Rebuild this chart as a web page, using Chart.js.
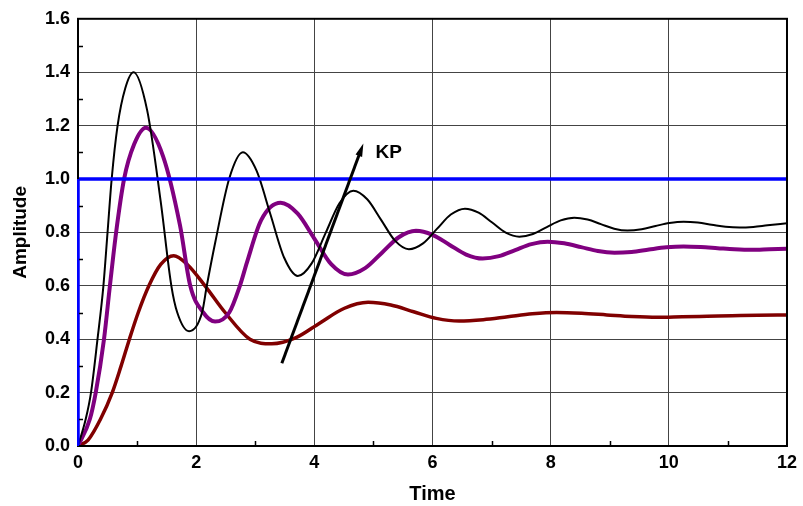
<!DOCTYPE html>
<html><head><meta charset="utf-8">
<script src="https://cdn.jsdelivr.net/npm/chart.js@4/dist/chart.umd.min.js"></script>
<style>html,body{margin:0;padding:0;background:#fff}#wrap{width:803px;height:506px}</style>
</head><body><div id="wrap"><canvas id="c"></canvas></div>
<script>
// Step input
const stepX = [0, 0, 12];
const stepY = [0, 1, 1];
// Highest KP (black)
const blackX = [0,0.13,0.22,0.33,0.43,0.5,0.57,0.67,0.8,0.94,1.17,1.40,1.58,1.68,1.88,2.1,2.18,2.325,2.56,2.79,3.02,3.255,3.49,3.72,3.955,4.19,4.425,4.66,4.895,5.13,5.365,5.6,5.84,6.075,6.31,6.55,6.78,7.01,7.24,7.47,7.70,7.935,8.17,8.4,8.625,8.85,9.075,9.3,9.54,9.775,10.01,10.25,10.49,10.725,10.96,11.2,11.43,11.67,12];
const blackY = [0,0.1,0.2,0.4,0.6,0.8,1.0,1.2,1.34,1.40,1.258,0.915,0.6,0.5,0.43,0.5,0.6,0.765,1.002,1.10,1.032,0.869,0.705,0.637,0.684,0.797,0.909,0.956,0.924,0.847,0.769,0.737,0.759,0.813,0.867,0.889,0.874,0.837,0.799,0.784,0.794,0.82,0.845,0.855,0.848,0.831,0.814,0.807,0.812,0.824,0.835,0.84,0.837,0.829,0.821,0.818,0.8205,0.8265,0.834];
// Middle KP (purple)
const purpleX = [0,0.2,0.3,0.44,0.54,0.645,0.78,0.95,1.15,1.44,1.725,1.9,2.12,2.32,2.56,2.74,2.86,3.1,3.43,3.715,4.0,4.285,4.57,4.86,5.145,5.43,5.72,6.0,6.285,6.57,6.85,7.125,7.4,7.675,7.95,8.23,8.515,8.8,9.08,9.37,9.665,9.96,10.25,10.54,10.825,11.11,11.4,11.7,12];
const purpleY = [0,0.1,0.2,0.4,0.6,0.8,1.0,1.13,1.192,1.085,0.828,0.6,0.5,0.466,0.5,0.6,0.688,0.846,0.911,0.871,0.777,0.681,0.642,0.666,0.724,0.782,0.806,0.791,0.754,0.717,0.702,0.711,0.734,0.756,0.765,0.759,0.745,0.730,0.724,0.727,0.736,0.744,0.747,0.745,0.741,0.737,0.735,0.737,0.739];
// Lowest KP (dark red)
const redX = [0,0.17,0.38,0.58,0.73,0.87,1.02,1.2,1.4,1.62,1.85,2.15,2.49,2.91,3.28,3.69,4.095,4.5,4.91,5.295,5.68,6.065,6.45,6.86,7.275,7.69,8.1,8.525,8.95,9.375,9.8,10.225,10.65,11.07,11.5,12];
const redY = [0,0.022,0.1,0.2,0.3,0.4,0.5,0.6,0.68,0.713,0.68,0.6,0.5,0.4,0.383,0.406,0.461,0.515,0.538,0.528,0.503,0.478,0.468,0.473,0.484,0.495,0.50,0.497,0.491,0.485,0.482,0.484,0.486,0.488,0.49,0.491];
// KP arrow (data coordinates) and label
const arrowX = [3.45, 4.83];
const arrowY = [0.31, 1.133];
const kpLabel = 'KP';
const kpPos = [5.036, 1.098];
const xTitle = 'Time';
const yTitle = 'Amplitude';

const pts = (xs, ys) => xs.map((x, i) => ({x: x, y: ys[i]}));
const FONT = "'Liberation Sans', Arial, sans-serif";

const extras = {
  id: 'extras',
  afterDraw(chart) {
    const {ctx, chartArea: a, scales: {x, y}} = chart;
    ctx.save();
    // minor ticks
    ctx.strokeStyle = '#000'; ctx.lineWidth = 1.5;
    ctx.beginPath();
    for (let v = 1; v < 12; v += 2) {
      const px = Math.round(x.getPixelForValue(v)) + 0.5;
      ctx.moveTo(px, a.bottom); ctx.lineTo(px, a.bottom - 5);
    }
    for (let v = 0.1; v < 1.6; v += 0.2) {
      const py = Math.round(y.getPixelForValue(v)) + 0.5;
      ctx.moveTo(a.left, py); ctx.lineTo(a.left + 5, py);
    }
    ctx.stroke();
    // border
    ctx.lineWidth = 2; ctx.strokeStyle = '#000';
    ctx.strokeRect(a.left, a.top, a.right - a.left, a.bottom - a.top);
    // step vertical over border
    ctx.strokeStyle = '#0000ff'; ctx.lineWidth = 2;
    ctx.beginPath();
    ctx.moveTo(x.getPixelForValue(0), y.getPixelForValue(0));
    ctx.lineTo(x.getPixelForValue(0), y.getPixelForValue(1));
    ctx.stroke();
    // arrow
    const x0 = x.getPixelForValue(arrowX[0]), y0 = y.getPixelForValue(arrowY[0]);
    const x1 = x.getPixelForValue(arrowX[1]), y1 = y.getPixelForValue(arrowY[1]);
    const ang = Math.atan2(y1 - y0, x1 - x0);
    const hl = 13, hw = 3.5;
    const bx = x1 - hl * Math.cos(ang), by = y1 - hl * Math.sin(ang);
    ctx.strokeStyle = '#000'; ctx.lineWidth = 3;
    ctx.beginPath(); ctx.moveTo(x0, y0); ctx.lineTo(bx + 2 * Math.cos(ang), by + 2 * Math.sin(ang)); ctx.stroke();
    ctx.fillStyle = '#000';
    ctx.beginPath();
    ctx.moveTo(x1, y1);
    ctx.lineTo(bx + hw * Math.sin(ang), by - hw * Math.cos(ang));
    ctx.lineTo(bx - hw * Math.sin(ang), by + hw * Math.cos(ang));
    ctx.closePath(); ctx.fill();
    // label
    ctx.font = 'bold 19px ' + FONT;
    ctx.textAlign = 'left'; ctx.textBaseline = 'middle';
    ctx.fillText(kpLabel, x.getPixelForValue(kpPos[0]), y.getPixelForValue(kpPos[1]));
    ctx.restore();
  }
};

const ds = (label, xs, ys, color, w, extra) => Object.assign({
  label, data: pts(xs, ys), borderColor: color, backgroundColor: color,
  borderWidth: w, pointRadius: 0, fill: false, cubicInterpolationMode: 'monotone'
}, extra || {});

new Chart(document.getElementById('c'), {
  type: 'line',
  data: {
    datasets: [
      ds('Step', stepX, stepY, '#0000ff', 3.5, {cubicInterpolationMode: 'default', tension: 0}),
      ds('KP high', blackX, blackY, '#000000', 2),
      ds('KP mid', purpleX, purpleY, '#800080', 4),
      ds('KP low', redX, redY, '#800000', 3.5)
    ]
  },
  options: {
    responsive: true, maintainAspectRatio: false, animation: false,
    layout: {padding: {top: 17, right: 12, left: 0, bottom: 0}},
    plugins: {legend: {display: false}, tooltip: {enabled: false}},
    scales: {
      x: {
        type: 'linear', min: 0, max: 12,
        afterFit: s => { s.height = 60; },
        border: {display: false},
        grid: {color: '#444', lineWidth: 1, drawTicks: false},
        ticks: {stepSize: 2, padding: 6, color: '#000', font: {family: FONT, size: 18, weight: 'bold'}},
        title: {display: true, text: xTitle, color: '#000', padding: {top: 0, bottom: 0}, font: {family: FONT, size: 20, weight: 'bold'}}
      },
      y: {
        type: 'linear', min: 0, max: 1.6,
        afterFit: s => { s.width = 78; },
        border: {display: false},
        grid: {color: '#444', lineWidth: 1, drawTicks: false},
        ticks: {stepSize: 0.2, padding: 8, color: '#000', font: {family: FONT, size: 18, weight: 'bold'}, callback: v => v.toFixed(1)},
        title: {display: true, text: yTitle, color: '#000', padding: {top: 9, bottom: 0}, font: {family: FONT, size: 19, weight: 'bold'}}
      }
    }
  },
  plugins: [extras]
});
</script>
</body></html>
